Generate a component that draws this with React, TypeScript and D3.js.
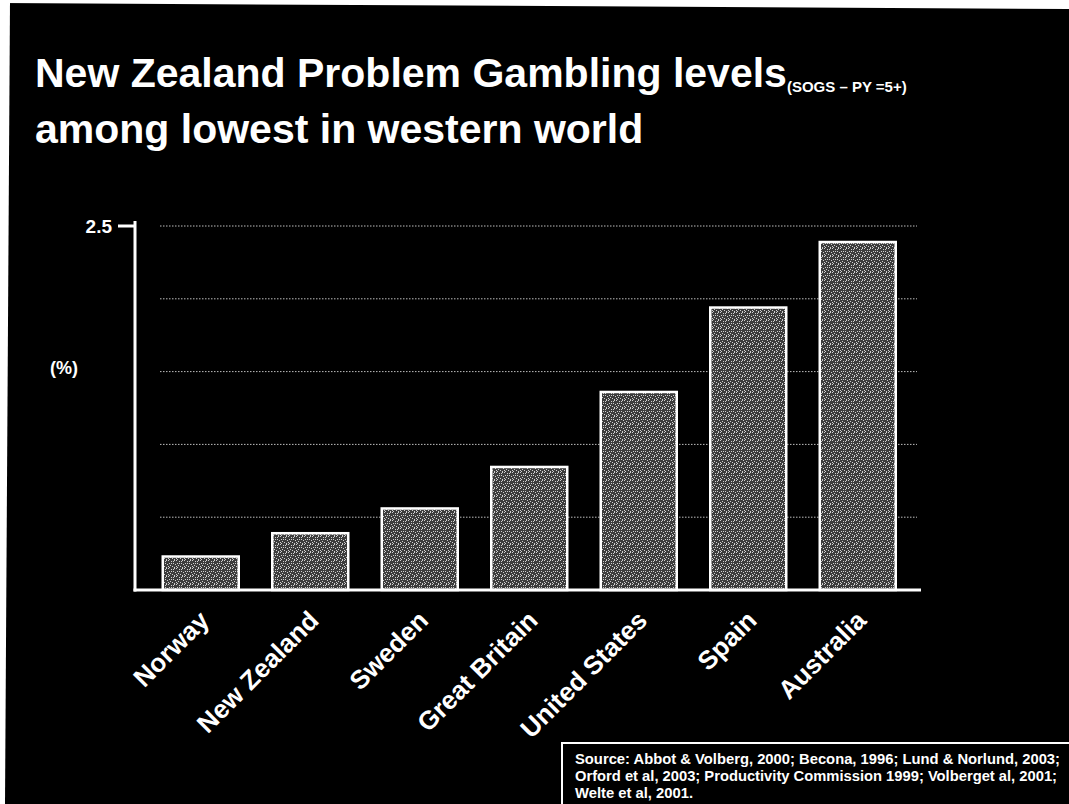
import React, { useEffect } from "react";
import * as d3 from "d3";

const countries = ["Norway", "New Zealand", "Sweden", "Great Britain", "United States", "Spain", "Australia"];
const values = [0.23, 0.39, 0.56, 0.845, 1.36, 1.94, 2.39];
const gridValues = [0.5, 1.0, 1.5, 2.0, 2.5];
const tickValues = [2.5];
const titleLine1 = "New Zealand Problem Gambling levels";
const titleSub = "(SOGS – PY =5+)";
const titleLine2 = "among lowest in western world";
const yLabel = "(%)";
const sourceLines = [
  "Source: Abbot & Volberg, 2000; Becona, 1996; Lund & Norlund, 2003;",
  "Orford et al, 2003; Productivity Commission 1999; Volberget al, 2001;",
  "Welte et al, 2001.",
];
const sourceWidths = [485, 482, 118];

const W = 1069;
const H = 804;
const FONT = "'Liberation Sans', Arial, Helvetica, sans-serif";

export default function App() {
  useEffect(() => {
    document.body.style.margin = "0";
    document.body.style.background = "#000";
  }, []);

  const x = d3.scaleBand<string>().domain(countries).range([146, 912.5]).paddingInner(0.306).paddingOuter(0.153);
  const y = d3.scaleLinear().domain([0, 2.5]).range([590, 226]);

  // stipple pattern dots (texture only)
  const dots = [
    [0, 0], [3, 1], [6, 0], [1, 3], [5, 3], [2, 5], [7, 4], [4, 6], [0, 6], [6, 7], [3, 3], [1, 7], [5, 1],
  ];

  return (
    <div style={{ position: "absolute", left: 0, top: 0 }}>
      <svg width={W} height={H} style={{ display: "block", background: "#000" }} fontFamily={FONT}>
        <defs>
          <pattern id="stip" width={8} height={8} patternUnits="userSpaceOnUse">
            <rect width={8} height={8} fill="#3c3c3c" />
            {dots.map(([dx, dy], i) => (
              <rect key={i} x={dx} y={dy} width={1} height={1} fill="#cfcfcf" />
            ))}
          </pattern>
        </defs>
        <rect x={0} y={0} width={W} height={H} fill="#000" />
        {/* scan edges */}
        <polygon points={`0,0 ${W},0 ${W},9 0,3`} fill="#fff" />
        <polygon points={`0,0 10,0 5,${H} 0,${H}`} fill="#fff" />

        {/* Title */}
        <text x={35} y={87} fill="#fff" fontSize={41} fontWeight="bold">
          {titleLine1}
          <tspan fontSize={15} dy={5}>{titleSub}</tspan>
        </text>
        <text x={35} y={143} fill="#fff" fontSize={41} fontWeight="bold">
          {titleLine2}
        </text>

        {/* gridlines */}
        {gridValues.map((v) => (
          <line key={v} x1={160} x2={917} y1={y(v)} y2={y(v)} stroke="#bdbdbd" strokeWidth={1} strokeDasharray="1.5,1.5" />
        ))}

        {/* bars */}
        {countries.map((c, i) => (
          <rect
            key={c}
            x={x(c)}
            y={y(values[i])}
            width={x.bandwidth()}
            height={y(0) - y(values[i])}
            fill="url(#stip)"
            stroke="#fff"
            strokeWidth={2.5}
          />
        ))}

        {/* axes */}
        <line x1={135} x2={135} y1={221} y2={591.5} stroke="#fff" strokeWidth={3} />
        <line x1={133.5} x2={921} y1={590} y2={590} stroke="#fff" strokeWidth={3} />
        {tickValues.map((t) => (
          <g key={t}>
            <line x1={118} x2={135} y1={y(t)} y2={y(t)} stroke="#fff" strokeWidth={3} />
            <text x={112} y={y(t)} dy="0.35em" textAnchor="end" fill="#fff" fontSize={19} fontWeight="bold">
              {d3.format(".1f")(t)}
            </text>
          </g>
        ))}
        <text x={64} y={368} dy="0.35em" textAnchor="middle" fill="#fff" fontSize={18} fontWeight="bold">
          {yLabel}
        </text>

        {/* category labels */}
        {countries.map((c) => {
          const cx = (x(c) as number) + x.bandwidth() / 2 + 10;
          return (
            <text
              key={c}
              transform={`translate(${cx},622) rotate(-45)`}
              textAnchor="end"
              fill="#fff"
              fontSize={26}
              fontWeight="bold"
            >
              {c}
            </text>
          );
        })}

        {/* source box */}
        <rect x={562} y={743} width={W - 562 + 5} height={H - 743 + 5} fill="#000" stroke="#fff" strokeWidth={2} />
        {sourceLines.map((s, i) => (
          <text
            key={i}
            x={575}
            y={764 + i * 17}
            fill="#fff"
            fontSize={14}
            fontWeight="bold"
            textLength={sourceWidths[i]}
            lengthAdjust="spacingAndGlyphs"
          >
            {s}
          </text>
        ))}
      </svg>
    </div>
  );
}
